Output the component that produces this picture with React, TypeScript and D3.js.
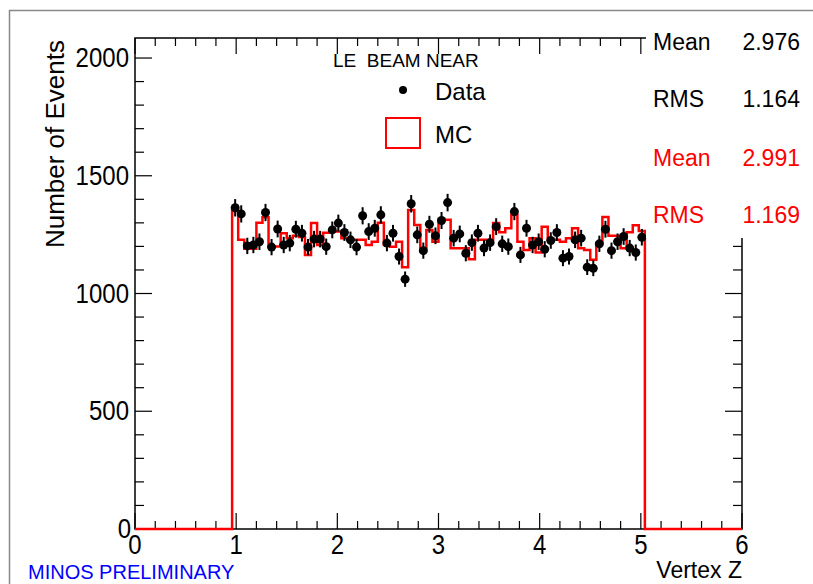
import React from 'react';
import * as d3 from 'd3';

// histogram binning: 100 bins from 0 to 6, only 0.96 - 5.04 filled
const binStart = 0.96;
const binWidth = 0.06;

const dataCounts = [
  1364, 1338, 1202, 1206, 1220, 1344, 1197, 1274, 1206, 1214,
  1273, 1256, 1197, 1231, 1231, 1199, 1270, 1299, 1259, 1228,
  1197, 1330, 1263, 1277, 1334, 1214, 1256, 1157, 1061, 1381,
  1249, 1182, 1294, 1245, 1310, 1386, 1235, 1253, 1171, 1216,
  1256, 1193, 1216, 1284, 1211, 1199, 1348, 1164, 1277, 1206,
  1220, 1188, 1225, 1259, 1150, 1157, 1228, 1235, 1112, 1107,
  1211, 1273, 1182, 1220, 1242, 1193, 1174, 1239,
];

const mcCounts = [
  1350, 1228, 1190, 1190, 1300, 1324, 1200, 1200, 1256, 1235,
  1245, 1240, 1164, 1299, 1206, 1258, 1263, 1263, 1235, 1228,
  1228, 1228, 1206, 1220, 1301, 1206, 1199, 1220, 1112, 1355,
  1291, 1192, 1270, 1220, 1313, 1313, 1192, 1192, 1192, 1146,
  1228, 1228, 1228, 1299, 1260, 1277, 1334, 1220, 1185, 1235,
  1174, 1284, 1228, 1228, 1220, 1235, 1277, 1192, 1185, 1143,
  1215, 1325, 1245, 1245, 1192, 1260, 1290, 1265,
];

const xTicks = [0, 1, 2, 3, 4, 5, 6];
const yTicks = [0, 500, 1000, 1500, 2000];

const statsData = { mean: '2.976', rms: '1.164' };
const statsMC = { mean: '2.991', rms: '1.169' };

const font = 'Liberation Sans, Arial, Helvetica, sans-serif';

// slightly tall text like the ROOT rendering
function Tall({ x, y, size, anchor, fill, children }: any) {
  return (
    <text transform={`translate(${x},${y}) scale(1,1.12)`} fontSize={size}
      textAnchor={anchor || 'start'} fill={fill || '#000'} style={{ whiteSpace: 'pre' }}>
      {children}
    </text>
  );
}

export default function App() {
  const left = 135, right = 742, top = 38, bottom = 529;
  const x = d3.scaleLinear().domain([0, 6]).range([left, right]);
  const y = d3.scaleLinear().domain([0, 2085]).range([bottom, top]);

  const xMinor = d3.range(0, 6.001, 0.2);
  const yMinor = d3.range(0, 2085, 100);

  const mcPts: [number, number][] = [[0, 0]];
  mcCounts.forEach((v, i) => mcPts.push([binStart + i * binWidth, v]));
  mcPts.push([binStart + mcCounts.length * binWidth, 0]);
  mcPts.push([6, 0]);
  const mcLine = d3.line<[number, number]>()
    .x(d => x(d[0]))
    .y(d => y(d[1]))
    .curve(d3.curveStepAfter);

  return (
    <svg width={813} height={584} style={{ position: 'absolute', left: 0, top: 0, background: '#fff' }}
      fontFamily={font}>
      {/* pad border */}
      <line x1={9} y1={10.5} x2={813} y2={10.5} stroke="#888" strokeWidth={1.5} />
      <line x1={9.5} y1={10} x2={9.5} y2={584} stroke="#888" strokeWidth={1.5} />

      {/* frame */}
      <rect x={left} y={top} width={right - left} height={bottom - top} fill="none" stroke="#000" strokeWidth={1.5} />

      {/* x ticks, bottom and top */}
      {xMinor.map((t, i) => {
        const major = Math.abs(t - Math.round(t)) < 1e-6;
        const len = major ? 16 : 8;
        return (
          <g key={'xm' + i}>
            <line x1={x(t)} x2={x(t)} y1={bottom} y2={bottom - len} stroke="#000" strokeWidth={1.2} />
            <line x1={x(t)} x2={x(t)} y1={top} y2={top + len} stroke="#000" strokeWidth={1.2} />
          </g>
        );
      })}
      {/* y ticks, left and right */}
      {yMinor.map((t, i) => {
        const len = t % 500 === 0 ? 17 : 9;
        return (
          <g key={'ym' + i}>
            <line x1={left} x2={left + len} y1={y(t)} y2={y(t)} stroke="#000" strokeWidth={1.2} />
            <line x1={right} x2={right - len} y1={y(t)} y2={y(t)} stroke="#000" strokeWidth={1.2} />
          </g>
        );
      })}

      {xTicks.map(t => (
        <Tall key={'xl' + t} x={x(t)} y={554} size={24} anchor="middle">{t}</Tall>
      ))}
      {yTicks.map(t => (
        <Tall key={'yl' + t} x={t === 0 ? 131 : 129} y={y(t) + 9} size={24} anchor="end">{t}</Tall>
      ))}

      <text x={742} y={578} fontSize={23} textAnchor="end">Vertex Z</text>
      <text transform={`translate(64,40) rotate(-90)`} fontSize={26} textAnchor="end">Number of Events</text>
      <text x={28} y={579} fontSize={20} fill="#0000ff">MINOS PRELIMINARY</text>

      {/* MC histogram */}
      <path d={mcLine(mcPts) ?? ''} fill="none" stroke="#ff0000" strokeWidth={2.5} />

      {/* data points with errors */}
      {dataCounts.map((v, i) => {
        const cx = x(binStart + (i + 0.5) * binWidth);
        const e = Math.sqrt(v);
        return (
          <g key={'d' + i}>
            <line x1={cx} x2={cx} y1={y(v - e)} y2={y(v + e)} stroke="#000" strokeWidth={2} />
            <circle cx={cx} cy={y(v)} r={4.5} fill="#000" />
          </g>
        );
      })}

      {/* legend */}
      <text x={333} y={67} fontSize={19} style={{ whiteSpace: 'pre' }}>{'LE  BEAM NEAR'}</text>
      <circle cx={403} cy={90} r={4} fill="#000" />
      <text x={435} y={100} fontSize={24}>Data</text>
      <rect x={386} y={118} width={34} height={30} fill="none" stroke="#ff0000" strokeWidth={2} />
      <text x={435} y={143} fontSize={24}>MC</text>

      {/* stats box */}
      <rect x={646} y={22} width={167} height={216} fill="#fff" />
      <text x={653} y={50} fontSize={23}>Mean</text>
      <text x={800} y={50} fontSize={23} textAnchor="end">{statsData.mean}</text>
      <text x={653} y={107} fontSize={23}>RMS</text>
      <text x={800} y={107} fontSize={23} textAnchor="end">{statsData.rms}</text>
      <text x={653} y={166} fontSize={23} fill="#ff0000">Mean</text>
      <text x={800} y={166} fontSize={23} textAnchor="end" fill="#ff0000">{statsMC.mean}</text>
      <text x={653} y={223} fontSize={23} fill="#ff0000">RMS</text>
      <text x={800} y={223} fontSize={23} textAnchor="end" fill="#ff0000">{statsMC.rms}</text>
    </svg>
  );
}
